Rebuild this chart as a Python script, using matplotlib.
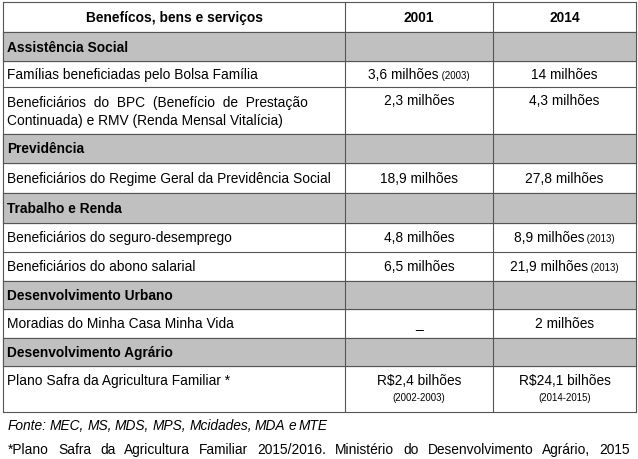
import matplotlib
matplotlib.use("Agg")
import matplotlib.pyplot as plt
from matplotlib.patches import Rectangle

plt.rcParams['font.family'] = ['Liberation Sans', 'DejaVu Sans']

header = ["Benefícos, bens e serviços", "2001", "2014"]
rows = [
    ("sec", "Assistência Social", "", "", "", ""),
    ("row", "Famílias beneficiadas pelo Bolsa Família", "3,6 milhões", " (2003)", "14 milhões", ""),
    ("row2", "Beneficiários  do  BPC  (Benefício  de  Prestação\nContinuada) e RMV (Renda Mensal Vitalícia)", "2,3 milhões", "", "4,3 milhões", ""),
    ("sec", "Previdência", "", "", "", ""),
    ("row", "Beneficiários do Regime Geral da Previdência Social", "18,9 milhões", "", "27,8 milhões", ""),
    ("sec", "Trabalho e Renda", "", "", "", ""),
    ("row", "Beneficiários do seguro-desemprego", "4,8 milhões", "", "8,9 milhões", " (2013)"),
    ("row", "Beneficiários do abono salarial", "6,5 milhões", "", "21,9 milhões", " (2013)"),
    ("sec", "Desenvolvimento Urbano", "", "", "", ""),
    ("row", "Moradias do Minha Casa Minha Vida", "_", "", "2 milhões", ""),
    ("sec", "Desenvolvimento Agrário", "", "", "", ""),
    ("row3", "Plano Safra da Agricultura Familiar *", "R$2,4 bilhões", "(2002-2003)", "R$24,1 bilhões", "(2014-2015)"),
]
heights = [29, 26, 47, 29, 30, 30, 29, 29, 28, 29, 28, 46]
footnotes = ["Fonte: MEC, MS, MDS, MPS, Mcidades, MDA e MTE",
             "*Plano Safra da Agricultura Familiar 2015/2016. Ministério do Desenvolvimento Agrário, 2015"]
foot_widths = [(8, 328), (8, 630)]

W, H = 638, 460
fig = plt.figure(figsize=(6.38, 4.6), dpi=100)
ax = fig.add_axes([0, 0, 1, 1])
ax.set_xlim(0, W); ax.set_ylim(H, 0); ax.axis('off')
xs = [3, 345, 493, 636]
gray = '#c0c0c0'
fs = 9.9
sfs = 6.9
lc = '#555555'

y0 = 3
hh = 30
for i, t in enumerate(header):
    cx = 174 if i == 0 else (xs[i] + xs[i+1]) / 2
    ax.text(cx, y0 + hh/2, t, ha='center', va='center', fontsize=fs, weight='bold')
ax.plot([xs[0], xs[-1]], [y0, y0], color=lc, lw=0.8)
y = y0 + hh
ax.plot([xs[0], xs[-1]], [y, y], color=lc, lw=0.8)

fig.canvas.draw()
r = fig.canvas.get_renderer()

def val(cx, ytop, h, main, small, kind):
    if kind == "row3":
        ax.text(cx, ytop + 14, main, ha='center', va='center', fontsize=fs)
        ax.text(cx, ytop + 31, small, ha='center', va='center', fontsize=sfs)
        return
    cy = ytop + (13 if kind == "row2" else h/2)
    if small:
        t1 = ax.text(0, 0, main, fontsize=fs)
        t2 = ax.text(0, 0, small, fontsize=sfs)
        w1 = t1.get_window_extent(r).width
        w2 = t2.get_window_extent(r).width
        left = cx - (w1 + w2) / 2
        t1.set_position((left, cy)); t1.set_va('center')
        t2.set_position((left + w1, cy + 1)); t2.set_va('center')
    else:
        ax.text(cx, cy, main, ha='center', va='center', fontsize=fs)

for (kind, label, a, sa, b, sb), h in zip(rows, heights):
    if kind == "sec":
        ax.add_patch(Rectangle((xs[0], y), xs[-1]-xs[0], h, color=gray, zorder=0))
        ax.text(xs[0] + 4, y + h/2, label, va='center', fontsize=fs, weight='bold')
    else:
        if kind == "row":
            ty = y + h/2
        elif kind == "row3":
            ty = y + 14
        else:
            ty = y + 24
        ax.text(xs[0] + 4, ty, label, va='center', fontsize=fs, linespacing=1.45)
        val((xs[1]+xs[2])/2, y, h, a, sa, kind)
        val((xs[2]+xs[3])/2, y, h, b, sb, kind)
    y += h
    ax.plot([xs[0], xs[-1]], [y, y], color=lc, lw=0.8)

for x in xs:
    ax.plot([x, x], [y0, y], color=lc, lw=0.8)

# justified footnotes
for k, (line, (x0, x1)) in enumerate(zip(footnotes, foot_widths)):
    words = line.split(" ")
    style = 'italic' if k == 0 else 'normal'
    ty = y + 13 + 24 * k
    ts = [ax.text(0, ty, w, fontsize=fs, style=style, va='center') for w in words]
    ws = [t.get_window_extent(r).width for t in ts]
    gap = (x1 - x0 - sum(ws)) / (len(words) - 1)
    pos = x0
    for t, w in zip(ts, ws):
        t.set_x(pos)
        pos += w + gap

fig.savefig("out.png", dpi=100)
